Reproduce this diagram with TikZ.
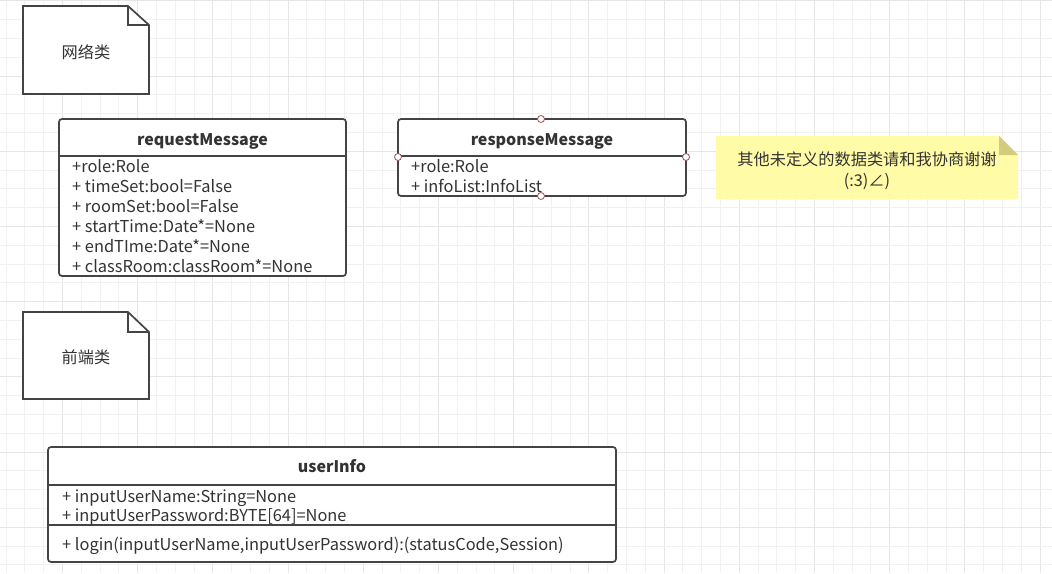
\documentclass[tikz,border=0pt]{standalone}
\usepackage{fontspec}
\setmainfont{Noto Sans CJK SC}
\usetikzlibrary{positioning}

\definecolor{linegray}{HTML}{444444}
\definecolor{textgray}{HTML}{333333}
\definecolor{gridminor}{HTML}{F1F1F1}
\definecolor{gridmajor}{HTML}{E6E6E6}
\definecolor{portred}{HTML}{A05050}
\definecolor{notefill}{HTML}{FFFBA6}
\definecolor{foldfill}{HTML}{D3CC7C}

\tikzset{
  classbox/.style={draw=linegray, line width=1.7pt, rounded corners=3pt, fill=white},
  divline/.style={draw=linegray, line width=1.7pt},
  notebox/.style={draw=linegray, line width=1.7pt, fill=white, line join=miter},
  classtitle/.style={font=\bfseries\fontsize{16}{19}\selectfont, text=textgray, inner sep=0pt, anchor=base},
  attr/.style={font=\fontsize{16.4}{19}\selectfont, text=textgray, anchor=base west, inner sep=0pt},
  notetext/.style={font=\fontsize{16.2}{21}\selectfont, text=textgray, inner sep=0pt},
  port/.style={circle, draw=portred, fill=white, inner sep=0pt, minimum size=7pt, line width=0.8pt},
}

\begin{document}
\begin{tikzpicture}[x=1pt, y=-1pt]
  \useasboundingbox (0,0) rectangle (1052,573);
  % grid
  \foreach \i in {0,...,55} {
    \pgfmathtruncatemacro{\maj}{mod(\i,4)==3}
    \ifnum\maj=1 \def\gc{gridmajor}\else\def\gc{gridminor}\fi
    \draw[\gc, line width=1pt] (6.1+18.8*\i,0) -- (6.1+18.8*\i,573);
  }
  \foreach \i in {0,...,30} {
    \pgfmathtruncatemacro{\maj}{mod(\i,4)==0}
    \ifnum\maj=1 \def\gc{gridmajor}\else\def\gc{gridminor}\fi
    \draw[\gc, line width=1pt] (0,0.9+18.8*\i) -- (1052,0.9+18.8*\i);
  }

  % notes
  \draw[notebox] (23,6) -- (128,6) -- (149,25) -- (149,94) -- (23,94) -- cycle;
  \draw[notebox, fill=none] (128,6) -- (128,25) -- (149,25);
  \node[notetext] (netnote) at (86,52) {网络类};

  \draw[notebox] (23,312) -- (128,312) -- (149,332) -- (149,399) -- (23,399) -- cycle;
  \draw[notebox, fill=none] (128,312) -- (128,332) -- (149,332);
  \node[notetext] (frontnote) at (86,357) {前端类};

  % requestMessage
  \draw[classbox] (59,119) rectangle (346,276);
  \draw[divline] (59,156) -- (346,156);
  \node[classtitle] (req) at (202.5,145) {requestMessage};
  \node[attr] (reqrole) at (72,172.5) {+role:Role};
  \node[attr] (reqtime) at (72,192.5) {+ timeSet:bool=False};
  \node[attr] (reqroom) at (72,212.5) {+ roomSet:bool=False};
  \node[attr] (reqstart) at (72,232.5) {+ startTime:Date*=None};
  \node[attr] (reqend) at (72,252.5) {+ endTIme:Date*=None};
  \node[attr] (reqclass) at (72,272.5) {+ classRoom:classRoom*=None};

  % responseMessage
  \draw[classbox] (398,119) rectangle (686,196);
  \draw[divline] (398,156) -- (686,156);
  \node[classtitle] (resp) at (542,145) {responseMessage};
  \node[attr] (resprole) at (411,172.5) {+role:Role};
  \node[attr] (respinfo) at (411,192.5) {+ infoList:InfoList};
  \node[port] (respn) at (541,119) {};
  \node[port] (respw) at (398,157) {};
  \node[port] (respe) at (686,157) {};
  \node[port] (resps) at (541,196) {};

  % yellow note
  \fill[notefill] (716,136) -- (999,136) -- (1018,155) -- (1018,199) -- (716,199) -- cycle;
  \fill[foldfill] (999,136) -- (1018,155) -- (999,155) -- cycle;
  \node[notetext, align=center] (todo) at (867,170.5) {其他未定义的数据类请和我协商谢谢\\(:3)∠)};

  % userInfo
  \draw[classbox] (48,447) rectangle (616,562);
  \draw[divline] (48,485) -- (616,485);
  \draw[divline] (48,525) -- (616,525);
  \node[classtitle] (user) at (332,472.7) {userInfo};
  \node[attr] (username) at (62,502.3) {+ inputUserName:String=None};
  \node[attr] (userpwd) at (62,521.8) {+ inputUserPassword:BYTE[64]=None};
  \node[attr] (login) at (62,550) {+ login(inputUserName,inputUserPassword):(statusCode,Session)};
\end{tikzpicture}
\end{document}
